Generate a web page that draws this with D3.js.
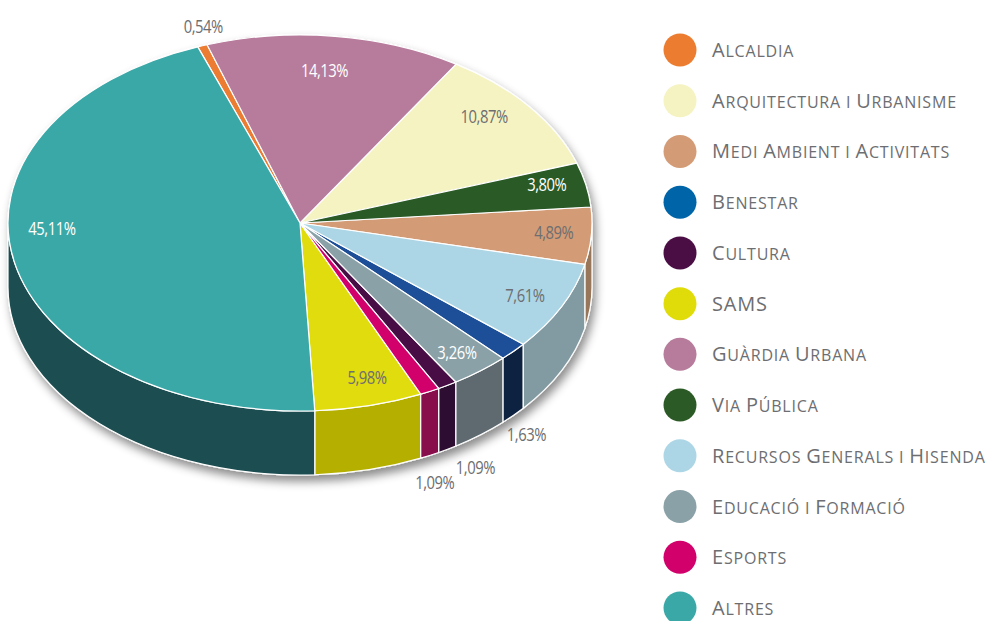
<!DOCTYPE html>
<html>
<head>
<meta charset="utf-8">
<script src="https://cdn.jsdelivr.net/npm/d3@7"></script>
<style>
  html, body { margin: 0; padding: 0; background: #fff; }
  svg { display: block; }
</style>
</head>
<body>
<svg id="chart" width="985" height="621"></svg>
<script>
// ---- Data ----
const categories = [
  "Alcaldia", "Arquitectura i Urbanisme", "Medi Ambient i Activitats", "Benestar",
  "Cultura", "SAMS", "Guàrdia Urbana", "Via Pública",
  "Recursos Generals i Hisenda", "Educació i Formació", "Esports", "Altres"
];
const values = [0.54, 10.87, 4.89, 1.63, 1.09, 5.98, 14.13, 3.80, 7.61, 3.26, 1.09, 45.11];
// clockwise order of the slices in the pie, starting near the top
const pieOrder = [
  "Alcaldia", "Guàrdia Urbana", "Arquitectura i Urbanisme", "Via Pública",
  "Medi Ambient i Activitats", "Recursos Generals i Hisenda", "Benestar",
  "Educació i Formació", "Cultura", "Esports", "SAMS", "Altres"
];

// ---- Styles ----
const topColors = {
  "Alcaldia": "#ec7c30", "Arquitectura i Urbanisme": "#f5f3c1", "Medi Ambient i Activitats": "#d49c76",
  "Benestar": "#1a4f98", "Cultura": "#4a0e45", "SAMS": "#e0dc0a", "Guàrdia Urbana": "#b77b9c",
  "Via Pública": "#2c5a26", "Recursos Generals i Hisenda": "#acd6e6", "Educació i Formació": "#8aa1a7",
  "Esports": "#d1006a", "Altres": "#3ba8a8"
};
const legendColors = Object.assign({}, topColors, { "Benestar": "#0065a8" });
const sideColors = {
  "Alcaldia": "#a9561f", "Arquitectura i Urbanisme": "#b8b690", "Medi Ambient i Activitats": "#97765a",
  "Benestar": "#10233f", "Cultura": "#2f0f30", "SAMS": "#b5b000", "Guàrdia Urbana": "#7f5570",
  "Via Pública": "#1d3c19", "Recursos Generals i Hisenda": "#829ba3", "Educació i Formació": "#5e6a70",
  "Esports": "#880a4c", "Altres": "#1d4e51"
};
const labelWhite = new Set(["Guàrdia Urbana", "Via Pública", "Educació i Formació", "Altres"]);
// label placement: r = fraction of radius on top face (inside), or outside offsets below the side
const labelPlace = {
  "Alcaldia": { r: 1.10, da: 2 },
  "Guàrdia Urbana": { r: 0.82, da: -1 },
  "Arquitectura i Urbanisme": { r: 0.85, da: -4 },
  "Via Pública": { r: 0.87, da: -2 },
  "Medi Ambient i Activitats": { r: 0.87, da: -1 },
  "Recursos Generals i Hisenda": { r: 0.86, da: 0 },
  "Benestar": { side: true, dx: 13, dy: 18 },
  "Educació i Formació": { r: 0.87, da: 0 },
  "Cultura": { side: true, dx: 28, dy: 17 },
  "Esports": { side: true, dx: 5, dy: 26 },
  "SAMS": { r: 0.85, da: -2 },
  "Altres": { r: 0.85, da: 10 }
};

const W = 985, H = 621;
const cx = 300, cy = 223, rx = 292, ry = 188, depth = 64;
const k = ry / rx;
const startDeg = -20.5;

const svg = d3.select("#chart");
const defs = svg.append("defs");
const f = defs.append("filter").attr("id", "shadow")
  .attr("x", "-10%").attr("y", "-10%").attr("width", "130%").attr("height", "130%");
f.append("feDropShadow").attr("dx", 3).attr("dy", 6).attr("stdDeviation", 5)
  .attr("flood-color", "#000").attr("flood-opacity", 0.45);

const data = categories.map((c, i) => ({ name: c, value: values[i] }));
const pie = d3.pie()
  .value(d => d.value)
  .sort((a, b) => pieOrder.indexOf(a.name) - pieOrder.indexOf(b.name))
  .startAngle(startDeg * Math.PI / 180)
  .endAngle(startDeg * Math.PI / 180 + 2 * Math.PI);
const arcs = pie(data);

const arc = d3.arc().innerRadius(0).outerRadius(rx);

const shadowG = svg.append("g").attr("filter", "url(#shadow)");
const g = shadowG.append("g").attr("transform", `translate(${cx},${cy}) scale(1,${k})`);

const Dp = depth / k; // depth in circle space
const R = rx;
function sidePath(a0, a1) {
  const p = d3.path();
  p.moveTo(R * Math.sin(a0), -R * Math.cos(a0));
  p.arc(0, 0, R, a0 - Math.PI / 2, a1 - Math.PI / 2, false);
  p.lineTo(R * Math.sin(a1), -R * Math.cos(a1) + Dp);
  p.arc(0, Dp, R, a1 - Math.PI / 2, a0 - Math.PI / 2, true);
  p.closePath();
  return p.toString();
}

// sides (front half only)
const lo = Math.PI / 2, hi = 3 * Math.PI / 2;
arcs.forEach(a => {
  const a0 = Math.max(a.startAngle, lo), a1 = Math.min(a.endAngle, hi);
  if (a1 > a0) {
    g.append("path")
      .attr("d", sidePath(a0, a1))
      .attr("fill", sideColors[a.data.name])
      .attr("stroke", "#fff")
      .attr("stroke-width", 1.2)
      .attr("stroke-linejoin", "round")
      .attr("vector-effect", "non-scaling-stroke");
  }
});

// top faces
g.selectAll("path.top").data(arcs).join("path")
  .attr("class", "top")
  .attr("d", arc)
  .attr("fill", d => topColors[d.data.name])
  .attr("stroke", "#fff")
  .attr("stroke-width", 1.2)
  .attr("stroke-linejoin", "round")
  .attr("vector-effect", "non-scaling-stroke");

// labels
const fmt = v => d3.format(".2f")(v).replace(".", ",") + "%";
arcs.forEach(a => {
  const pl = labelPlace[a.data.name];
  const mid = (a.startAngle + a.endAngle) / 2;
  let x, y, col;
  if (pl.side) {
    x = cx + rx * Math.sin(mid) + pl.dx;
    y = cy - ry * Math.cos(mid) + depth + pl.dy;
    col = "#6d6e71";
  } else {
    const ang = mid + pl.da * Math.PI / 180;
    x = cx + rx * pl.r * Math.sin(ang);
    y = cy - ry * pl.r * Math.cos(ang);
    col = pl.r > 1 ? "#6d6e71" : (labelWhite.has(a.data.name) ? "#ffffff" : "#6d6e71");
  }
  svg.append("text")
    .attr("transform", `translate(${x},${y}) scale(0.78,1)`)
    .attr("text-anchor", "middle")
    .attr("dominant-baseline", "central")
    .attr("font-family", "'Open Sans', sans-serif")
    .attr("font-size", 19)
    .attr("letter-spacing", -0.6)
    .attr("fill", col)
    .text(fmt(a.data.value));
});

// legend
const legendY = d3.scalePoint().domain(categories).range([50, 608]);
const lg = svg.append("g");
function smallCapsRuns(s) {
  const runs = [];
  for (const ch of s) {
    const big = ch !== ch.toLowerCase();
    const last = runs[runs.length - 1];
    if (last && last.big === big) last.t += ch;
    else runs.push({ big, t: ch });
  }
  return runs;
}
categories.forEach(c => {
  const y = legendY(c);
  lg.append("circle").attr("cx", 680).attr("cy", y).attr("r", 16.5).attr("fill", legendColors[c]);
  const t = lg.append("text")
    .attr("x", 712).attr("y", y + 7)
    .attr("font-family", "'Open Sans', sans-serif")
    .attr("letter-spacing", 0.8)
    .attr("fill", "#6d6e71");
  smallCapsRuns(c).forEach(r => {
    t.append("tspan")
      .attr("font-size", r.big ? 20 : 16)
      .text(r.t.toUpperCase());
  });
});
</script>
</body>
</html>
